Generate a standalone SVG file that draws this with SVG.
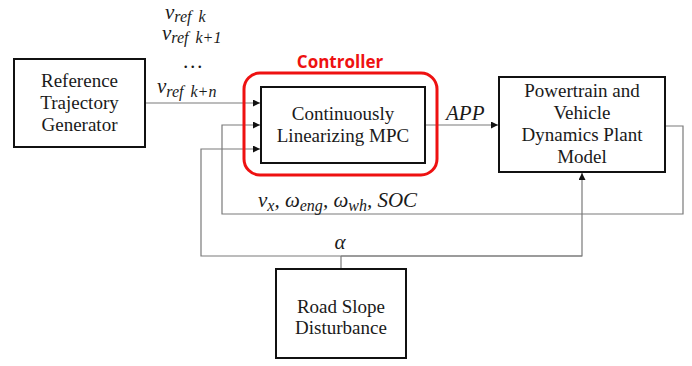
<svg xmlns="http://www.w3.org/2000/svg" width="692" height="366" viewBox="0 0 692 366">
  <style>
    .box { fill: #ffffff; stroke: #111111; stroke-width: 2; }
    .wire { fill: none; stroke: #7a7a7a; stroke-width: 1.2; }
    .lbl { font-family: "Liberation Serif", "DejaVu Serif", serif; font-size: 19px; fill: #1a1a1a; text-anchor: middle; }
    .math { font-family: "Liberation Serif", "DejaVu Serif", serif; font-style: italic; font-size: 21px; fill: #1a1a1a; }
    .sub { font-size: 16px; }
    .ctl { font-family: "Open Sans", "Liberation Sans", sans-serif; font-weight: bold; font-size: 17px; fill: #ee1111; text-anchor: middle; }
  </style>
  <defs>
    <marker id="arr" viewBox="0 0 8 8" refX="8" refY="4" markerWidth="7" markerHeight="7" markerUnits="userSpaceOnUse" orient="auto">
      <path d="M0,0 L8,4 L0,8 z" fill="#111111"/>
    </marker>
  </defs>

  <rect width="692" height="366" fill="#ffffff"/>

  <!-- connectors -->
  <g id="connectors">
    <path class="wire" d="M145,103 H260" marker-end="url(#arr)"/>
    <path class="wire" d="M425,125 H498" marker-end="url(#arr)"/>
    <path class="wire" d="M665,126 H683 V214 H222 V125 H260" marker-end="url(#arr)"/>
    <path class="wire" d="M341,269 V256"/>
    <path class="wire" d="M582,256 H201 V149 H260" marker-end="url(#arr)"/>
    <path class="wire" d="M341,256 H582 V173" marker-end="url(#arr)"/>
  </g>

  <!-- controller grouping -->
  <g id="controller">
    <rect x="244" y="73" width="193" height="102" rx="16" ry="16" fill="none" stroke="#ee1111" stroke-width="3"/>
    <text class="ctl" x="340" y="68">Controller</text>
  </g>

  <g id="reference-generator">
    <rect class="box" x="14" y="59" width="131" height="88"/>
    <text class="lbl" x="79.5" y="87">Reference</text>
    <text class="lbl" x="79.5" y="109">Trajectory</text>
    <text class="lbl" x="79.5" y="131">Generator</text>
  </g>

  <g id="mpc">
    <rect class="box" x="261" y="87" width="164" height="76"/>
    <text class="lbl" x="343" y="120">Continuously</text>
    <text class="lbl" x="343" y="142">Linearizing MPC</text>
  </g>

  <g id="plant">
    <rect class="box" x="499" y="77" width="166" height="95"/>
    <text class="lbl" x="582" y="97">Powertrain and</text>
    <text class="lbl" x="582" y="118.5">Vehicle</text>
    <text class="lbl" x="582" y="141">Dynamics Plant</text>
    <text class="lbl" x="582" y="162.5">Model</text>
  </g>

  <g id="road-slope">
    <rect class="box" x="276" y="269" width="130" height="89"/>
    <text class="lbl" x="341" y="313">Road Slope</text>
    <text class="lbl" x="341" y="334">Disturbance</text>
  </g>

  <!-- signal labels -->
  <g id="labels">
    <text class="math" x="165" y="19" word-spacing="3">v<tspan class="sub" dy="3">ref k</tspan></text>
    <text class="math" x="162" y="40" word-spacing="3">v<tspan class="sub" dy="3">ref k+1</tspan></text>
    <text class="math" x="193" y="68" text-anchor="middle" font-style="normal" font-size="14">…</text>
    <text class="math" x="157" y="93" word-spacing="3">v<tspan class="sub" dy="4">ref k+n</tspan></text>
    <text class="math" x="446" y="120">APP</text>
    <text class="math" x="258" y="207">v<tspan class="sub" dy="4">x</tspan><tspan dy="-4">, ω</tspan><tspan class="sub" dy="4">eng</tspan><tspan dy="-4">, ω</tspan><tspan class="sub" dy="4">wh</tspan><tspan dy="-4">, SOC</tspan></text>
    <text class="math" x="340" y="249" text-anchor="middle">α</text>
  </g>
</svg>
